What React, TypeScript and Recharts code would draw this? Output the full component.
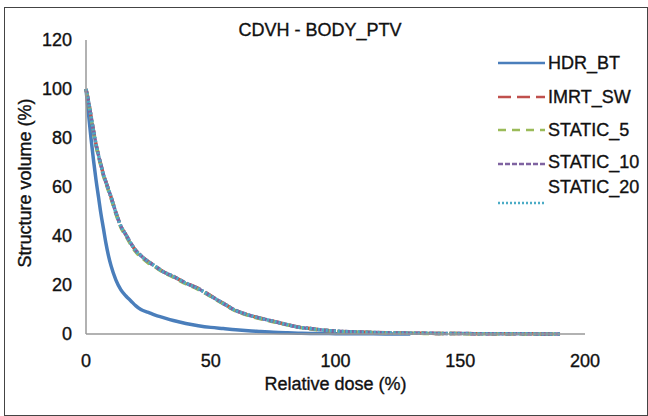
import { LineChart, Line, XAxis, YAxis, Legend, Label } from "recharts"

// relative dose (%) sampled along the curves
const DOSE = [
  0, 1, 2, 3, 4, 5, 6, 7, 8, 9, 10, 12, 14, 16, 18, 20, 22, 25, 28, 30,
  35, 40, 45, 50, 55, 60, 65, 70, 75, 80, 85, 90, 95, 100, 110, 120, 130,
  140, 150, 160, 170, 180, 190,
]

const HDR_BT = [
  100, 90, 80, 71, 63, 56, 49, 43, 37, 32, 28, 22, 18, 15.5, 13.5, 11.5, 10, 8.8, 7.6, 7,
  5.5, 4.3, 3.4, 2.7, 2.2, 1.7, 1.3, 1.0, 0.7, 0.5, 0.35, 0.25, 0.2, 0.15, 0.1, 0.05, 0.03,
  null, null, null, null, null, null,
]
const IMRT_SW = [
  100, 95, 89, 83, 77.5, 73, 69, 65, 62, 59, 56, 49.5, 44, 40.5, 37, 34, 32, 29.5, 27.5, 26,
  23.5, 20.8, 18.6, 15.6, 12.5, 9.6, 7.8, 6.4, 5.2, 4.0, 2.9, 2.2, 1.6, 1.2, 0.8, 0.5, 0.35,
  0.25, 0.18, 0.12, 0.08, 0.05, 0.02,
]
const STATIC_5 = [
  100, 94.5, 88.5, 82.5, 77, 72.5, 68.5, 64.5, 61.5, 58.5, 55.5, 49, 43.5, 40, 36.5, 33.5, 31.5, 29, 27.2, 25.8,
  23.2, 20.5, 18.2, 15.3, 12.3, 9.4, 7.6, 6.2, 5.0, 3.9, 2.8, 2.1, 1.5, 1.1, 0.75, 0.45, 0.3,
  0.22, 0.15, 0.1, 0.07, 0.04, 0.02,
]
const STATIC_10 = [
  100, 95, 89, 83, 77.5, 73, 69, 65, 62, 59, 56, 49.5, 44, 40.5, 37, 34, 32, 29.5, 27.5, 26,
  23.5, 20.8, 18.5, 15.5, 12.5, 9.6, 7.8, 6.4, 5.2, 4.0, 2.8, 2.2, 1.6, 1.2, 0.8, 0.5, 0.35,
  0.25, 0.18, 0.12, 0.08, 0.05, 0.02,
]
const STATIC_20 = [
  100, 95, 89, 83, 77.5, 73, 69, 65, 62, 59, 56, 49.5, 44, 40.5, 37, 34, 32, 29.5, 27.5, 26,
  23.5, 20.8, 18.5, 15.5, 12.5, 9.6, 7.8, 6.4, 5.2, 4.0, 2.8, 2.2, 1.6, 1.2, 0.8, 0.5, 0.35,
  0.25, 0.18, 0.12, 0.08, 0.05, 0.02,
]

const X_TICKS = [0, 50, 100, 150, 200]
const Y_TICKS = [0, 20, 40, 60, 80, 100, 120]

const SERIES = [
  { key: "HDR_BT", values: HDR_BT, color: "#4a7ebb", dash: undefined as string | undefined, legendDash: undefined as string | undefined },
  { key: "IMRT_SW", values: IMRT_SW, color: "#c0504d", dash: "12 6", legendDash: "13 6" },
  { key: "STATIC_5", values: STATIC_5, color: "#9bbb59", dash: "8 6", legendDash: "8 6" },
  { key: "STATIC_10", values: STATIC_10, color: "#7f63a1", dash: "5 2", legendDash: "5 2" },
  { key: "STATIC_20", values: STATIC_20, color: "#4bacc6", dash: "2 2", legendDash: "2 2" },
]

const data = DOSE.map((d, i) => {
  const row: Record<string, number | null> = { dose: d }
  SERIES.forEach((s) => { row[s.key] = s.values[i] })
  return row
})

const FONT = "Arial, 'Liberation Sans', sans-serif"
const FS = 18
// the scanned text looks a bit heavy, thicken it slightly
const TXT = { fontSize: FS, fontFamily: FONT, fill: "#111", stroke: "#111", strokeWidth: 0.35 }

// legend rows: line y, text y (relative to legend box)
const LEGEND_ROWS = [
  { lineY: 13, textY: 13 },
  { lineY: 47, textY: 47 },
  { lineY: 80, textY: 80 },
  { lineY: 114, textY: 112 },
  { lineY: 153, textY: 137 },
]

function LegendBox() {
  return (
    <svg width={151} height={170} style={{ overflow: "visible" }}>
      {SERIES.map((s, i) => (
        <g key={s.key}>
          <line
            x1={1} x2={48}
            y1={LEGEND_ROWS[i].lineY} y2={LEGEND_ROWS[i].lineY}
            stroke={s.color} strokeWidth={2.5}
            strokeDasharray={s.legendDash}
          />
          <text x={51} y={LEGEND_ROWS[i].textY} dy="0.36em" {...TXT}>
            {s.key}
          </text>
        </g>
      ))}
    </svg>
  )
}

export default function App() {
  return (
    <div style={{ position: "absolute", left: 0, top: 0, width: 648, height: 416, background: "#fff" }}>
      <div
        style={{
          position: "absolute", left: 4, top: 7, width: 644, height: 409,
          border: "1px solid #444", boxSizing: "border-box",
        }}
      />
      <svg width={648} height={50} style={{ position: "absolute", left: 0, top: 0 }}>
        <text x={320} y={30} dy="0.36em" textAnchor="middle" {...TXT}>
          CDVH - BODY_PTV
        </text>
      </svg>
      <div style={{ position: "absolute", left: 0, top: 0 }}>
        <LineChart
          width={648}
          height={416}
          data={data}
          margin={{ top: 40, right: 63, bottom: 22, left: 0 }}
        >
          <XAxis
            type="number"
            dataKey="dose"
            domain={[0, 200]}
            ticks={X_TICKS}
            tickLine={false}
            tickSize={0}
            tickMargin={20}
            height={60}
            axisLine={{ stroke: "#999", strokeWidth: 1.5 }}
            tick={TXT}
          >
            <Label
              content={({ viewBox }: any) => (
                <text
                  x={viewBox.x + viewBox.width / 2}
                  y={viewBox.y + 50}
                  dy="0.36em"
                  textAnchor="middle"
                  {...TXT}
                >
                  Relative dose (%)
                </text>
              )}
            />
          </XAxis>
          <YAxis
            type="number"
            domain={[0, 120]}
            ticks={Y_TICKS}
            width={86}
            tickLine={false}
            tickSize={0}
            tickMargin={14}
            axisLine={{ stroke: "#999", strokeWidth: 1.5 }}
            tick={TXT}
          >
            <Label
              content={({ viewBox }: any) => {
                const cx = viewBox.x + 25
                const cy = viewBox.y + viewBox.height / 2 - 4
                return (
                  <text
                    x={cx}
                    y={cy}
                    dy="0.36em"
                    textAnchor="middle"
                    transform={`rotate(-90 ${cx} ${cy})`}
                    {...TXT}
                  >
                    Structure volume (%)
                  </text>
                )
              }}
            />
          </YAxis>
          <Legend
            layout="vertical"
            align="center"
            verticalAlign="middle"
            wrapperStyle={{ left: 497, top: 50, width: 151, height: 170 }}
            content={() => <LegendBox />}
          />
          {SERIES.map((s) => (
            <Line
              key={s.key}
              type="monotone"
              dataKey={s.key}
              stroke={s.color}
              strokeWidth={3.5}
              strokeDasharray={s.dash}
              dot={false}
              activeDot={false}
              isAnimationActive={false}
            />
          ))}
        </LineChart>
      </div>
    </div>
  )
}
